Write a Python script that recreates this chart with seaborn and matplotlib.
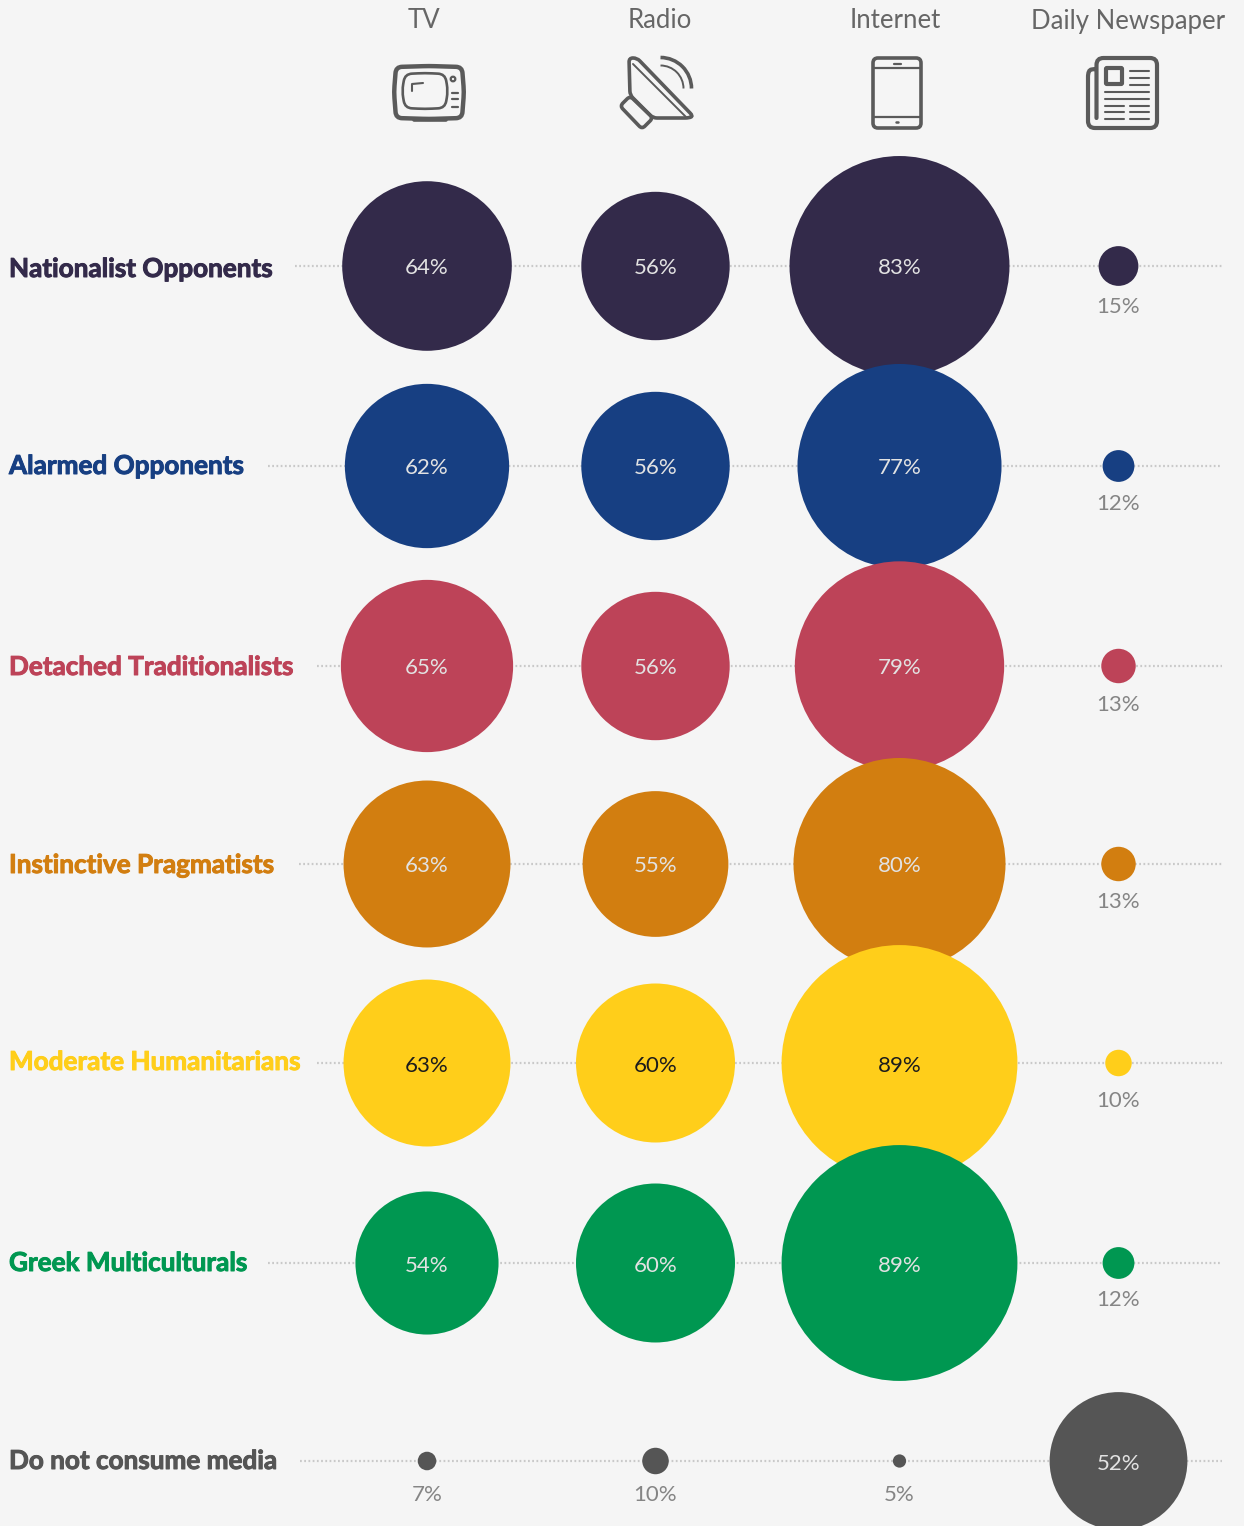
import numpy as np
import pandas as pd
import seaborn as sb
import matplotlib.pyplot as plt
import matplotlib.patheffects as pe
from matplotlib.path import Path
from matplotlib.patches import FancyBboxPatch, PathPatch, Arc, Circle

#Data
groups = ["Nationalist Opponents", "Alarmed Opponents", "Detached Traditionalists",
          "Instinctive Pragmatists", "Moderate Humanitarians", "Greek Multiculturals",
          "Do not consume media"]
media = ["TV", "Radio", "Internet", "Daily Newspaper"]
tv = [64, 62, 65, 63, 63, 54, 7]
radio = [56, 56, 56, 55, 60, 60, 10]
internet = [83, 77, 79, 80, 89, 89, 5]
newspaper = [15, 12, 13, 13, 10, 12, 52]
colors = ["#332a4a", "#173f82", "#bd4358", "#d27e10", "#ffce1a", "#009751", "#555555"]

#Layout in pixels
W, H = 1244, 1526
bg = "#f5f5f5"
icon_c = "#5a5a5a"
col_x = [427, 655.5, 899.5, 1118.5]
row_y = [266, 466, 666, 864, 1063, 1263, 1461]
label_y = [269, 466, 667, 865, 1062, 1263, 1461]
below_off = [41, 38, 39, 38, 38, 37, 34]
line_x0 = [295, 268, 317, 299, 317, 268, 300]
head_x = [424, 660, 895, 1128]
radius_per_pct = 1.325

sb.set_theme(style="white")
plt.rcParams['font.family'] = ['Lato', 'DejaVu Sans']

fig = plt.figure(figsize=(W / 100, H / 100), dpi=100, facecolor=bg)
ax = fig.add_axes([0, 0, 1, 1])
ax.set_facecolor(bg)
ax.set_xlim(0, W)
ax.set_ylim(H, 0)

#Long table, the row order gives the overlap of the big circles
rows = []
for i, g in enumerate(groups):
    for j, vals in enumerate([tv, radio, internet, newspaper]):
        rows.append({"group": g, "media": media[j], "value": vals[i],
                     "x": col_x[j], "y": row_y[i], "below": below_off[i]})
df = pd.DataFrame(rows)
df["s"] = (2 * radius_per_pct * df["value"] * 0.72) ** 2

#Dotted guides
for i in range(len(groups)):
    ax.plot([line_x0[i], 1222], [row_y[i], row_y[i]], color="#c9c9c9", lw=1.6,
            ls=(0, (0.8, 1.1)), zorder=1)

sb.scatterplot(data=df, x="x", y="y", hue="group", palette=dict(zip(groups, colors)),
               s=df["s"].values, linewidth=0, legend=False, ax=ax, zorder=2)
ax.set_xlim(0, W)
ax.set_ylim(H, 0)
ax.set_xlabel("")
ax.set_ylabel("")
ax.axis("off")

#Text
for x, m in zip(head_x, media):
    ax.text(x, 21, m, ha="center", va="center", fontsize=18.5, color="#666666", zorder=5)
for g, c, y in zip(groups, colors, label_y):
    t = ax.text(9, y, g, ha="left", va="center", fontsize=18.8, fontweight="bold", color=c, zorder=5)
    t.set_path_effects([pe.withStroke(linewidth=0.7, foreground=c)])
for _, r in df.iterrows():
    txt = f"{r['value']}%"
    if r["value"] < 20:
        ax.text(r["x"], r["y"] + r["below"], txt, ha="center", va="center", fontsize=16,
                color="#858585", zorder=5)
    else:
        c = "#1c1c1c" if r["group"] == "Moderate Humanitarians" else "#e2e2e2"
        ax.text(r["x"], r["y"] + 2.5, txt, ha="center", va="center", fontsize=16,
                color=c, zorder=5)


def rbox(x0, y0, x1, y1, rad, lw=3, fc="none"):
    ax.add_patch(FancyBboxPatch((x0 + rad, y0 + rad), x1 - x0 - 2 * rad, y1 - y0 - 2 * rad,
                                boxstyle=f"round,pad={rad},rounding_size={rad}",
                                fc=fc, ec=icon_c, lw=lw, zorder=5))


def seg(xs, ys, lw=2):
    ax.plot(xs, ys, color=icon_c, lw=lw, solid_capstyle="round", solid_joinstyle="round", zorder=5)


def round_poly(pts, rad, lw=2.6, closed=True):
    #polygon with rounded corners, open ends stay where they are
    pts = [np.array(p, dtype=float) for p in pts]
    n = len(pts)
    verts, codes = [], []
    for i in range(n):
        p = pts[i]
        if not closed and i in (0, n - 1):
            verts.append(p)
            codes.append(Path.MOVETO if i == 0 else Path.LINETO)
            continue
        a, b = pts[(i - 1) % n], pts[(i + 1) % n]
        p0 = p + (a - p) / np.linalg.norm(a - p) * min(rad, np.linalg.norm(a - p) / 2)
        p1 = p + (b - p) / np.linalg.norm(b - p) * min(rad, np.linalg.norm(b - p) / 2)
        verts += [p0, p, p1]
        codes += [Path.MOVETO if (i == 0 and closed) else Path.LINETO, Path.CURVE3, Path.CURVE3]
    if closed:
        verts.append(verts[0])
        codes.append(Path.CLOSEPOLY)
    ax.add_patch(PathPatch(Path(verts, codes), fc="none", ec=icon_c, lw=lw, capstyle="round", zorder=5))


#TV icon
round_poly([(396, 67), (429, 66), (462, 67), (464, 92), (462, 118), (429, 119), (396, 118), (394, 92)], 6, lw=3.2)
round_poly([(405, 74), (425, 73), (445, 74), (448, 91), (445, 108), (425, 109), (405, 108), (402, 91)], 7, lw=1.9)
ax.add_patch(Circle((453, 79), 2.3, fc="none", ec=icon_c, lw=1.6, zorder=5))
for y in [93, 99, 107]:
    seg([452, 458], [y, y], lw=1.6)
seg([412, 412, 423], [91, 84, 83], lw=1.5)
seg([414, 446], [120, 120], lw=2.6)

#Radio icon
round_poly([(629, 58), (637, 58), (693, 116), (689, 118), (653, 118), (630, 95)], 4, lw=2.6)
round_poly([(630, 96), (620, 106), (642, 129), (653, 118)], 4, lw=2.6)
seg([633, 686], [64, 117], lw=1.4)
ax.add_patch(Arc((660.5, 88.5), 62, 62, theta1=-90, theta2=0, angle=0, ec=icon_c, lw=2.6, zorder=5))
ax.add_patch(Arc((660.5, 88.5), 46, 46, theta1=-90, theta2=0, angle=0, ec=icon_c, lw=1.4, zorder=5))

#Tablet icon
rbox(873, 58, 921, 128, 5, lw=2.6)
seg([874, 920], [68, 68], lw=1.6)
seg([874, 920], [117, 117], lw=1.6)
seg([894, 901], [64, 64], lw=1.6)
seg([896, 898], [122, 122], lw=1.8)

#Newspaper icon, one stroke from the inner fold around the page and the flap
round_poly([(1096.5, 118), (1096.5, 58), (1157, 58), (1157, 128), (1088, 128), (1088, 70), (1095, 69)],
           7, lw=3, closed=False)
rbox(1106, 68, 1122, 84, 1, lw=3)
for y in [71, 78, 85]:
    seg([1130, 1149], [y, y], lw=1.5)
for y in [92, 99]:
    seg([1105, 1149], [y, y], lw=1.5)
for y in [106, 112, 119]:
    seg([1105, 1124], [y, y], lw=1.5)
    seg([1130, 1149], [y, y], lw=1.5)

fig.savefig("out.png", dpi=100, facecolor=bg)
